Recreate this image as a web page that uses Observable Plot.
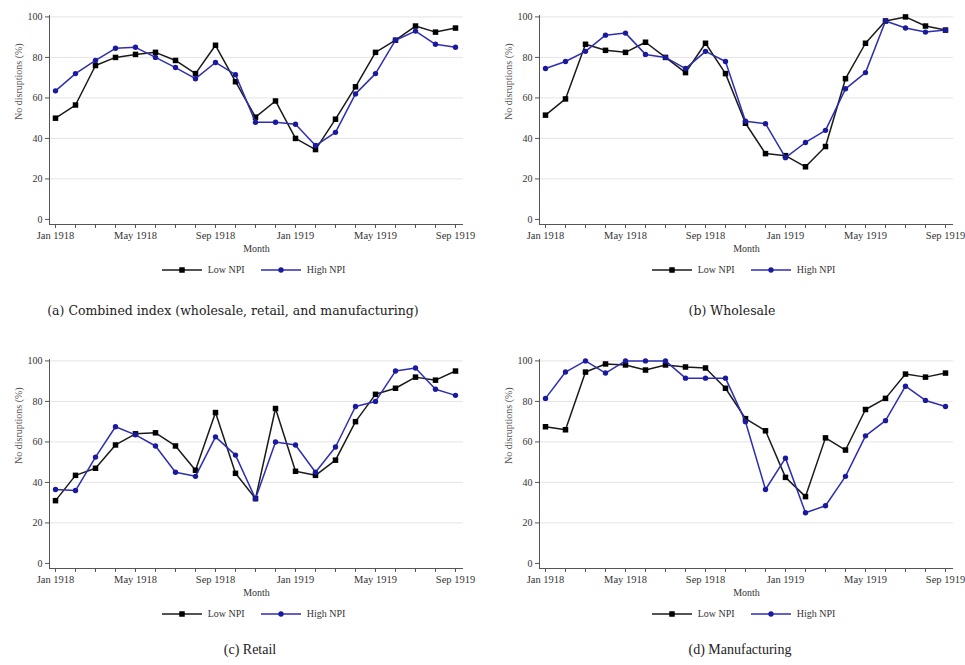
<!DOCTYPE html>
<html>
<head>
<meta charset="utf-8">
<script src="https://cdn.jsdelivr.net/npm/d3@7"></script>
<script src="https://cdn.jsdelivr.net/npm/@observablehq/plot@0.6"></script>
<style>
  html, body { margin: 0; padding: 0; background: #fff; }
  #root { position: relative; width: 965px; height: 665px; overflow: hidden; background: #fff; }
  .panel { position: absolute; }
  .legend { position: absolute; width: 475px; display: flex; justify-content: center; align-items: center;
            font-family: "Liberation Serif", serif; font-size: 10px; color: #333; }
  .legend .item { display: flex; align-items: center; margin: 0 8px; }
  .legend svg { margin-right: 6px; }
  .caption { position: absolute; width: 500px; text-align: center; color: #222; line-height: 16px; }
</style>
</head>
<body>
<div id="root"></div>
<script>
// ---- data ----
const monthLabels = ["Jan 1918","Feb 1918","Mar 1918","Apr 1918","May 1918","Jun 1918","Jul 1918","Aug 1918","Sep 1918","Oct 1918","Nov 1918","Dec 1918","Jan 1919","Feb 1919","Mar 1919","Apr 1919","May 1919","Jun 1919","Jul 1919","Aug 1919","Sep 1919"];
const yTicks = [0, 20, 40, 60, 80, 100];
const seriesNames = ["Low NPI", "High NPI"];
const yLabel = "No disruptions (%)";
const xLabel = "Month";
const captions = ["(a) Combined index (wholesale, retail, and manufacturing)", "(b) Wholesale", "(c) Retail", "(d) Manufacturing"];

const combinedLow  = [50, 56.5, 76, 80, 81.5, 82.5, 78.5, 72, 86, 68, 50.5, 58.5, 40, 34.5, 49.5, 65.5, 82.5, 88.5, 95.5, 92.5, 94.5];
const combinedHigh = [63.5, 72, 78.5, 84.5, 85, 80, 75, 69.5, 77.5, 71.5, 48, 48, 47, 36.5, 43, 62, 72, 88.5, 93, 86.5, 85];
const wholesaleLow  = [51.5, 59.5, 86.5, 83.5, 82.5, 87.5, 80, 72.5, 87, 72, 47.5, 32.5, 31.5, 26, 36, 69.5, 87, 98, 100, 95.5, 93.5];
const wholesaleHigh = [74.5, 78, 83, 91, 92, 81.5, 80, 74.5, 83, 78, 48.5, 47.3, 30.5, 38, 44, 64.5, 72.5, 98, 94.5, 92.5, 93.5];
const retailLow  = [31, 43.5, 47, 58.5, 64, 64.5, 58, 46, 74.5, 44.5, 32, 76.5, 45.5, 43.5, 51, 70, 83.5, 86.5, 92, 90.5, 95];
const retailHigh = [36.5, 36, 52.5, 67.5, 63.5, 58, 45, 43, 62.5, 53.5, 32, 60, 58.5, 45, 57.5, 77.5, 80, 95, 96.5, 86, 83];
const manufLow  = [67.5, 66, 94.5, 98.5, 98, 95.5, 98, 97, 96.5, 86.5, 71.5, 65.5, 42.5, 33, 62, 56, 76, 81.5, 93.5, 92, 94];
const manufHigh = [81.5, 94.5, 100, 94, 100, 100, 100, 91.5, 91.5, 91.5, 70, 36.5, 52, 25, 28.5, 43, 63, 70.5, 87.5, 80.5, 77.5];

// ---- styling ----
const lowColor = "#1a1a1a", lowMarker = "#000";
const highColor = "#2e2eb0", highMarker = "#1a1a9c";
const xDomain = [-0.3, 20.4];
const yDomain = [-2.5, 100.7];

function panel(low, high) {
  const idx = (d, i) => i;
  const val = d => d;
  return Plot.plot({
    width: 475, height: 256,
    marginLeft: 49, marginRight: 12, marginTop: 15, marginBottom: 32,
    x: {domain: xDomain, axis: null},
    y: {domain: yDomain, axis: null},
    style: {fontFamily: "'Liberation Serif', serif", background: "transparent", color: "#333", overflow: "visible"},
    marks: [
      Plot.gridY(yTicks.filter(t => t > 0), {stroke: "#e4e4e4", strokeOpacity: 1, strokeWidth: 1}),
      Plot.ruleX([xDomain[0]], {stroke: "#555", strokeWidth: 1}),
      Plot.ruleY([yDomain[0]], {stroke: "#555", strokeWidth: 1}),
      Plot.axisY({ticks: yTicks, tickSize: 4, tickPadding: 3, fontSize: 10, label: null, stroke: "#555"}),
      Plot.axisX({ticks: d3.range(monthLabels.length), tickSize: 4, tickPadding: 3, fontSize: 10.5,
                  tickFormat: i => (i % 4 === 0 ? monthLabels[i] : ""), label: null, stroke: "#555"}),
      Plot.text([yLabel], {frameAnchor: "left", rotate: -90, dx: -31, fontSize: 10, fill: "#555"}),
      Plot.text([xLabel], {frameAnchor: "bottom", dy: 24, lineAnchor: "middle", fontSize: 10, fill: "#333"}),
      Plot.line(low, {x: idx, y: val, stroke: lowColor, strokeWidth: 1.5}),
      Plot.dot(low, {x: idx, y: val, symbol: "square", r: 3.1, fill: lowMarker, stroke: "none"}),
      Plot.line(high, {x: idx, y: val, stroke: highColor, strokeWidth: 1.5}),
      Plot.dot(high, {x: idx, y: val, symbol: "circle", r: 2.7, fill: highMarker, stroke: "none"})
    ]
  });
}

function legendItem(name, color, marker, symbol) {
  const item = document.createElement("div");
  item.className = "item";
  const ns = "http://www.w3.org/2000/svg";
  const svg = document.createElementNS(ns, "svg");
  svg.setAttribute("width", 40); svg.setAttribute("height", 10);
  const line = document.createElementNS(ns, "line");
  line.setAttribute("x1", 0); line.setAttribute("x2", 40); line.setAttribute("y1", 5); line.setAttribute("y2", 5);
  line.setAttribute("stroke", color); line.setAttribute("stroke-width", 1.5);
  svg.appendChild(line);
  let m;
  if (symbol === "square") {
    m = document.createElementNS(ns, "rect");
    m.setAttribute("x", 17.25); m.setAttribute("y", 2.25); m.setAttribute("width", 5.5); m.setAttribute("height", 5.5);
  } else {
    m = document.createElementNS(ns, "circle");
    m.setAttribute("cx", 20); m.setAttribute("cy", 5); m.setAttribute("r", 2.7);
  }
  m.setAttribute("fill", marker);
  svg.appendChild(m);
  item.appendChild(svg);
  const t = document.createElement("span");
  t.textContent = name;
  item.appendChild(t);
  return item;
}

const root = document.getElementById("root");
const panels = [
  {low: combinedLow, high: combinedHigh, x: 0, y: 0, capX: 233, capY: 311, capFont: "12.5px 'DejaVu Serif', serif"},
  {low: wholesaleLow, high: wholesaleHigh, x: 490, y: 0, capX: 732, capY: 311, capFont: "12.5px 'DejaVu Serif', serif"},
  {low: retailLow, high: retailHigh, x: 0, y: 344, capX: 250, capY: 650, capFont: "14px 'Liberation Serif', serif"},
  {low: manufLow, high: manufHigh, x: 490, y: 344, capX: 740, capY: 650, capFont: "14px 'Liberation Serif', serif"}
];

panels.forEach((p, k) => {
  const wrap = document.createElement("div");
  wrap.className = "panel";
  wrap.style.left = p.x + "px";
  wrap.style.top = p.y + "px";
  wrap.appendChild(panel(p.low, p.high));
  root.appendChild(wrap);

  const leg = document.createElement("div");
  leg.className = "legend";
  leg.style.left = (p.x + 16) + "px";
  leg.style.top = (p.y + 264) + "px";
  leg.appendChild(legendItem(seriesNames[0], lowColor, lowMarker, "square"));
  leg.appendChild(legendItem(seriesNames[1], highColor, highMarker, "circle"));
  root.appendChild(leg);

  const cap = document.createElement("div");
  cap.className = "caption";
  cap.style.left = (p.capX - 250) + "px";
  cap.style.top = (p.capY - 8) + "px";
  cap.style.font = p.capFont;
  cap.style.lineHeight = "16px";
  cap.textContent = captions[k];
  root.appendChild(cap);
});
</script>
</body>
</html>
